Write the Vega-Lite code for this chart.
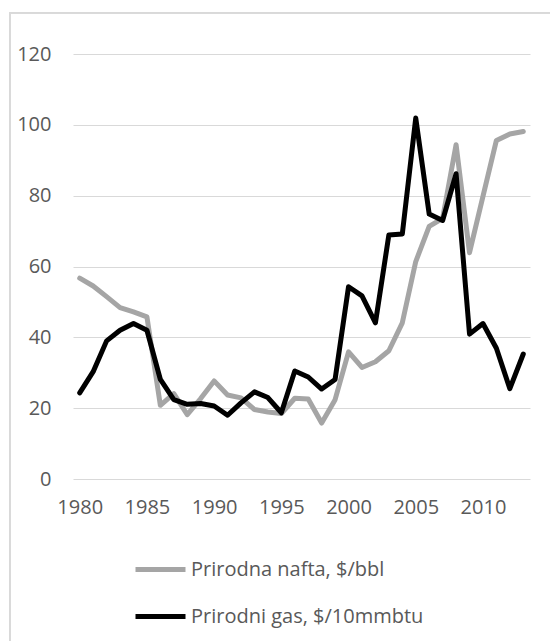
{
  "$schema": "https://vega.github.io/schema/vega-lite/v6.json",
  "autosize": {"type": "none"},
  "width": 457,
  "height": 425,
  "padding": {"left": 73, "top": 54, "right": 20, "bottom": 162},
  "background": "white",
  "config": {
    "view": {"stroke": null},
    "font": "Open Sans",
    "axis": {"labelFont": "Open Sans", "labelFontSize": 20, "labelColor": "#595959"},
    "legend": {"labelFont": "Open Sans", "labelFontSize": 20, "labelColor": "#595959", "labelLimit": 0}
  },
  "data": {
    "values": [
      {"year": 1980, "series": "Prirodna nafta, $/bbl", "value": 56.7},
      {"year": 1981, "series": "Prirodna nafta, $/bbl", "value": 54.5},
      {"year": 1982, "series": "Prirodna nafta, $/bbl", "value": 51.5},
      {"year": 1983, "series": "Prirodna nafta, $/bbl", "value": 48.4},
      {"year": 1984, "series": "Prirodna nafta, $/bbl", "value": 47.2},
      {"year": 1985, "series": "Prirodna nafta, $/bbl", "value": 45.8},
      {"year": 1986, "series": "Prirodna nafta, $/bbl", "value": 20.8},
      {"year": 1987, "series": "Prirodna nafta, $/bbl", "value": 24.1},
      {"year": 1988, "series": "Prirodna nafta, $/bbl", "value": 18.2},
      {"year": 1989, "series": "Prirodna nafta, $/bbl", "value": 22.7},
      {"year": 1990, "series": "Prirodna nafta, $/bbl", "value": 27.7},
      {"year": 1991, "series": "Prirodna nafta, $/bbl", "value": 23.7},
      {"year": 1992, "series": "Prirodna nafta, $/bbl", "value": 22.9},
      {"year": 1993, "series": "Prirodna nafta, $/bbl", "value": 19.6},
      {"year": 1994, "series": "Prirodna nafta, $/bbl", "value": 18.9},
      {"year": 1995, "series": "Prirodna nafta, $/bbl", "value": 18.5},
      {"year": 1996, "series": "Prirodna nafta, $/bbl", "value": 22.8},
      {"year": 1997, "series": "Prirodna nafta, $/bbl", "value": 22.6},
      {"year": 1998, "series": "Prirodna nafta, $/bbl", "value": 15.8},
      {"year": 1999, "series": "Prirodna nafta, $/bbl", "value": 22.4},
      {"year": 2000, "series": "Prirodna nafta, $/bbl", "value": 35.9},
      {"year": 2001, "series": "Prirodna nafta, $/bbl", "value": 31.5},
      {"year": 2002, "series": "Prirodna nafta, $/bbl", "value": 33.1},
      {"year": 2003, "series": "Prirodna nafta, $/bbl", "value": 36.2},
      {"year": 2004, "series": "Prirodna nafta, $/bbl", "value": 44.1},
      {"year": 2005, "series": "Prirodna nafta, $/bbl", "value": 61.4},
      {"year": 2006, "series": "Prirodna nafta, $/bbl", "value": 71.3},
      {"year": 2007, "series": "Prirodna nafta, $/bbl", "value": 73.6},
      {"year": 2008, "series": "Prirodna nafta, $/bbl", "value": 94.4},
      {"year": 2009, "series": "Prirodna nafta, $/bbl", "value": 63.9},
      {"year": 2010, "series": "Prirodna nafta, $/bbl", "value": 79.8},
      {"year": 2011, "series": "Prirodna nafta, $/bbl", "value": 95.6},
      {"year": 2012, "series": "Prirodna nafta, $/bbl", "value": 97.4},
      {"year": 2013, "series": "Prirodna nafta, $/bbl", "value": 98.1},
      {"year": 1980, "series": "Prirodni gas, $/10mmbtu", "value": 24.3},
      {"year": 1981, "series": "Prirodni gas, $/10mmbtu", "value": 30.3},
      {"year": 1982, "series": "Prirodni gas, $/10mmbtu", "value": 39.0},
      {"year": 1983, "series": "Prirodni gas, $/10mmbtu", "value": 42.0},
      {"year": 1984, "series": "Prirodni gas, $/10mmbtu", "value": 43.9},
      {"year": 1985, "series": "Prirodni gas, $/10mmbtu", "value": 42.0},
      {"year": 1986, "series": "Prirodni gas, $/10mmbtu", "value": 28.1},
      {"year": 1987, "series": "Prirodni gas, $/10mmbtu", "value": 22.4},
      {"year": 1988, "series": "Prirodni gas, $/10mmbtu", "value": 21.1},
      {"year": 1989, "series": "Prirodni gas, $/10mmbtu", "value": 21.3},
      {"year": 1990, "series": "Prirodni gas, $/10mmbtu", "value": 20.6},
      {"year": 1991, "series": "Prirodni gas, $/10mmbtu", "value": 18.0},
      {"year": 1992, "series": "Prirodni gas, $/10mmbtu", "value": 21.5},
      {"year": 1993, "series": "Prirodni gas, $/10mmbtu", "value": 24.6},
      {"year": 1994, "series": "Prirodni gas, $/10mmbtu", "value": 23.0},
      {"year": 1995, "series": "Prirodni gas, $/10mmbtu", "value": 18.7},
      {"year": 1996, "series": "Prirodni gas, $/10mmbtu", "value": 30.5},
      {"year": 1997, "series": "Prirodni gas, $/10mmbtu", "value": 28.8},
      {"year": 1998, "series": "Prirodni gas, $/10mmbtu", "value": 25.4},
      {"year": 1999, "series": "Prirodni gas, $/10mmbtu", "value": 28.1},
      {"year": 2000, "series": "Prirodni gas, $/10mmbtu", "value": 54.3},
      {"year": 2001, "series": "Prirodni gas, $/10mmbtu", "value": 51.7},
      {"year": 2002, "series": "Prirodni gas, $/10mmbtu", "value": 44.1},
      {"year": 2003, "series": "Prirodni gas, $/10mmbtu", "value": 68.9},
      {"year": 2004, "series": "Prirodni gas, $/10mmbtu", "value": 69.2},
      {"year": 2005, "series": "Prirodni gas, $/10mmbtu", "value": 101.9},
      {"year": 2006, "series": "Prirodni gas, $/10mmbtu", "value": 74.8},
      {"year": 2007, "series": "Prirodni gas, $/10mmbtu", "value": 73.0},
      {"year": 2008, "series": "Prirodni gas, $/10mmbtu", "value": 86.2},
      {"year": 2009, "series": "Prirodni gas, $/10mmbtu", "value": 40.9},
      {"year": 2010, "series": "Prirodni gas, $/10mmbtu", "value": 43.9},
      {"year": 2011, "series": "Prirodni gas, $/10mmbtu", "value": 36.9},
      {"year": 2012, "series": "Prirodni gas, $/10mmbtu", "value": 25.5},
      {"year": 2013, "series": "Prirodni gas, $/10mmbtu", "value": 35.3}
    ]
  },
  "layer": [
    {
      "mark": {"type": "rule", "color": "#d9d9d9", "strokeWidth": 1.2, "clip": false},
      "encoding": {
        "x": {"datum": 1974.8, "type": "quantitative", "scale": {"domain": [1979.5, 2013.5], "nice": false, "zero": false}},
        "y": {"datum": 131.6, "type": "quantitative"},
        "y2": {"datum": -60}
      }
    },
    {
      "mark": {"type": "rule", "color": "#d9d9d9", "strokeWidth": 1.2, "clip": false},
      "encoding": {
        "x": {"datum": 1974.8, "type": "quantitative"},
        "x2": {"datum": 2020},
        "y": {"datum": 131.6, "type": "quantitative"}
      }
    },
    {
      "mark": {"type": "line", "strokeWidth": 5, "strokeJoin": "round", "strokeCap": "round"},
      "encoding": {
        "x": {
          "field": "year",
          "type": "quantitative",
          "scale": {"domain": [1979.5, 2013.5], "nice": false, "zero": false},
          "axis": {
            "title": null,
            "values": [1980, 1985, 1990, 1995, 2000, 2005, 2010],
            "format": "d",
            "grid": false,
            "domain": false,
            "ticks": false,
            "labelPadding": 18,
            "labelFlush": false
          }
        },
        "y": {
          "field": "value",
          "type": "quantitative",
          "scale": {"domain": [0, 120], "nice": false},
          "axis": {
            "title": null,
            "values": [0, 20, 40, 60, 80, 100, 120],
            "grid": true,
            "gridColor": "#d9d9d9",
            "gridWidth": 1.2,
            "domain": false,
            "ticks": false,
            "labelPadding": 22
          }
        },
        "color": {
          "field": "series",
          "type": "nominal",
          "scale": {
            "domain": ["Prirodna nafta, $/bbl", "Prirodni gas, $/10mmbtu"],
            "range": ["#a5a5a5", "#000000"]
          },
          "legend": {
            "title": null,
            "orient": "none",
            "legendX": 60,
            "legendY": 488,
            "direction": "vertical",
            "symbolType": "stroke",
            "symbolSize": 2500,
            "symbolStrokeWidth": 5,
            "labelOffset": 3,
            "rowPadding": 9
          }
        }
      }
    }
  ]
}
